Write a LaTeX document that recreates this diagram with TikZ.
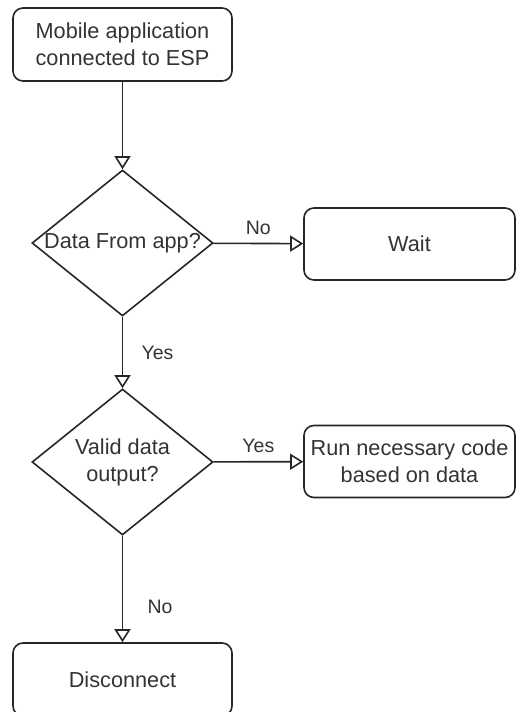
\documentclass[tikz,border=0pt]{standalone}
\usepackage{fontspec}
\setmainfont{Liberation Sans}
\usetikzlibrary{shapes.geometric,arrows.meta}
\begin{document}
\begin{tikzpicture}[x=1pt,y=-1pt,
    >={Triangle[open,length=13pt,width=16pt]},
    line width=1.6pt,
    box/.style={draw=black!85,rounded corners=10pt,minimum width=219pt,minimum height=73pt,
        align=center,text=black!80,font=\fontsize{21.7}{27}\selectfont},
    sidebox/.style={box,minimum width=211pt,minimum height=72pt},
    dec/.style={draw=black!85,diamond,inner sep=0pt,minimum width=181pt,minimum height=146pt},
    dectext/.style={align=center,text=black!80,font=\fontsize{21.7}{27}\selectfont},
    lab/.style={text=black!80,font=\fontsize{19.5}{23}\selectfont},
    link/.style={draw=black!85,->}]
\useasboundingbox (0,0) rectangle (516,712);
\clip (0,0) rectangle (516,712);
\node[box](start) at (122.5,44.5){Mobile application\\connected to ESP};
\node[dec,label={[dectext]center:Data From app?}](d1) at (122.5,243){};
\node[sidebox](wait) at (409.5,244){Wait};
\node[dec,label={[dectext]center:Valid data\\output?}](d2) at (122.5,462){};
\node[sidebox](run) at (409.5,461.5){Run necessary code\\based on data};
\node[box](disc) at (122.5,679.5){Disconnect};
\draw[link](start)--(d1);
\draw[link](d1)--node[lab,above=5pt]{No}(wait);
\draw[link](d1)--node[lab,right=15pt]{Yes}(d2);
\draw[link](d2)--node[lab,above=5pt]{Yes}(run);
\draw[link](d2)--node[lab,right=21pt,pos=.67]{No}(disc);
\end{tikzpicture}
\end{document}
